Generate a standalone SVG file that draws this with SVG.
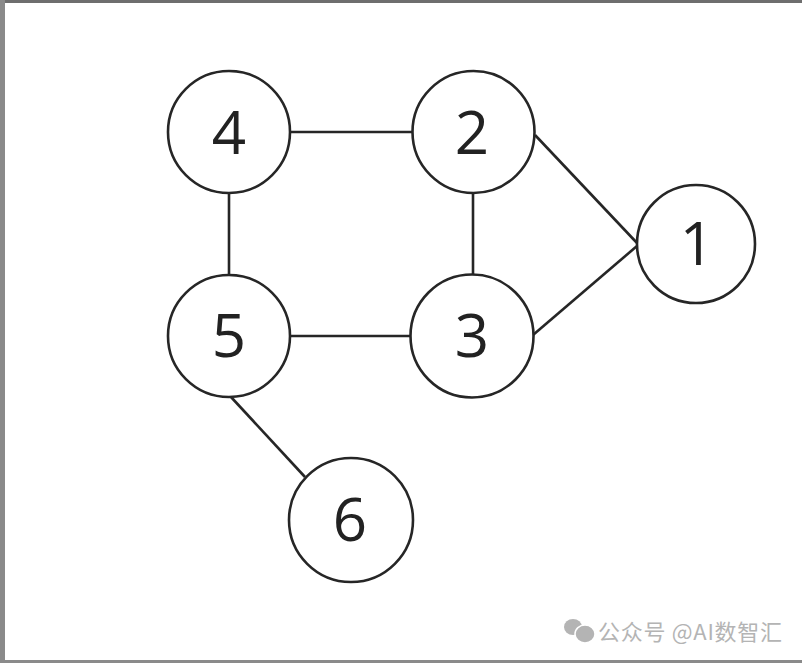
<svg xmlns="http://www.w3.org/2000/svg" width="802" height="663" viewBox="0 0 802 663">
<style>
.node circle{fill:#fff;stroke:#262626;stroke-width:2.6}
.node text{font-family:"Open Sans","Noto Sans","DejaVu Sans",sans-serif;font-size:60px;fill:#222;text-anchor:middle}
#edges line{stroke:#262626;stroke-width:2.6}
.wm{font-family:"Noto Sans CJK SC","Noto Sans",sans-serif;font-size:22px;fill:#b4b4b4}
</style>
<rect width="802" height="663" fill="#fff"/>
<rect x="0" y="0" width="802" height="3" fill="#6e6e6e"/>
<rect x="0" y="0" width="5" height="663" fill="#8a8a8a"/>
<rect x="0" y="660" width="802" height="3" fill="#8a8a8a"/>
<g id="edges">
<line x1="290" y1="132" x2="412" y2="132"/>
<line x1="229" y1="193" x2="229" y2="275"/>
<line x1="473" y1="193" x2="473" y2="275"/>
<line x1="290" y1="336" x2="410" y2="336"/>
<line x1="535" y1="135" x2="637" y2="243"/>
<line x1="533" y1="335" x2="637" y2="246"/>
<line x1="231" y1="397" x2="305" y2="477"/>
</g>
<g id="node4" class="node"><circle cx="229" cy="132" r="61"/><text x="229" y="154">4</text></g>
<g id="node2" class="node"><circle cx="473.5" cy="132" r="61"/><text x="472" y="154">2</text></g>
<g id="node1" class="node"><circle cx="696" cy="244" r="59"/><text x="697" y="265">1</text></g>
<g id="node5" class="node"><circle cx="229" cy="336" r="61"/><text x="229" y="357">5</text></g>
<g id="node3" class="node"><circle cx="472" cy="336" r="61.5"/><text x="472" y="357">3</text></g>
<g id="node6" class="node"><circle cx="351" cy="520" r="62"/><text x="350" y="541">6</text></g>
<g id="watermark">
<ellipse cx="573" cy="627" rx="9" ry="8" fill="#b4b4b4"/>
<ellipse cx="585" cy="634" rx="10" ry="9" fill="#b4b4b4" stroke="#fff" stroke-width="1.5"/>
<text class="wm" x="598" y="640" textLength="184">公众号 @AI数智汇</text>
</g>
</svg>
